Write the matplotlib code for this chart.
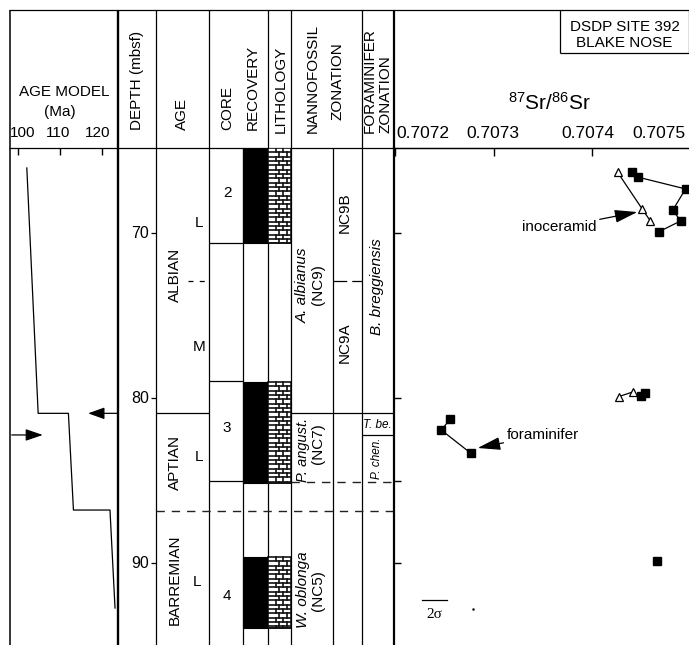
import matplotlib
matplotlib.use('Agg')
import matplotlib.pyplot as plt
from matplotlib.patches import Rectangle

plt.rcParams['font.family'] = ['Liberation Sans', 'DejaVu Sans']
plt.rcParams['mathtext.fontset'] = 'custom'
plt.rcParams['mathtext.rm'] = 'Liberation Sans'

W, H = 689, 645
HEAD = 148          # bottom of header row (px)
PX_M = 16.5         # px per metre, 70 mbsf sits at 233 px
D_TOP = 70 - (233 - HEAD) / PX_M
D_BOT = 70 + (H - 233) / PX_M

# ---- data -------------------------------------------------------------
depth_ticks = [70, 80, 90]
sr_ticks = [0.7072, 0.7073, 0.7074, 0.7075]
sr_tick_labels = ['0.7072', '0.7073', '0.7074', '0.7075']
sr_left_ticks = [70, 80, 85, 90]
age_ticks = [100, 110, 120]
age_tick_labels = ['100', '110', '120']

# age model (Ma) against depth (mbsf)
model_age = [102.1, 104.8, 112.0, 113.2, 121.9, 123.1]
model_depth = [66.06, 80.93, 80.93, 86.79, 86.79, 92.73]
arrow_right_depth = 82.24
arrow_left_depth = 80.93

cores = ['2', '3', '4']
core_label_depth = [67.6, 81.8, 92.0]
core_breaks = [70.61, 78.97, 85.03]
rec_top = [D_TOP, 79.03, 89.64]
rec_bot = [70.61, 85.15, 93.94]

stage_names = ['ALBIAN', 'APTIAN', 'BARREMIAN']
stage_depth = [72.55, 83.88, 91.03]
substage_names = ['L', 'M', 'L', 'L']
substage_depth = [69.39, 76.91, 83.58, 91.15]
alb_apt = 80.93
apt_bar = 86.85
alb_lm = 72.9
nc7_base = 85.09
tbe_base = 82.24

# 87Sr/86Sr
ino_sr_a = [0.707426, 0.707451, 0.707459]
ino_d_a = [66.32, 68.55, 69.25]
blk_sr_a = [0.707441, 0.707447, 0.707495, 0.707482, 0.707490, 0.707468]
blk_d_a = [66.28, 66.62, 67.33, 68.61, 69.27, 69.92]
ino_sr_b = [0.707427, 0.707442]
ino_d_b = [79.92, 79.62]
blk_sr_b = [0.707450, 0.707454]
blk_d_b = [79.88, 79.68]
foram_sr = [0.707256, 0.707247, 0.707277]
foram_d = [81.29, 81.94, 83.35]
blk_sr_c = [0.707466]
blk_d_c = [89.88]
two_sigma = 0.0000254

# ---- figure -----------------------------------------------------------
fig = plt.figure(figsize=(W / 100, H / 100), dpi=100)


def col_rect(x0, x1):
    return [x0 / W, 0, (x1 - x0) / W, 1 - HEAD / H]


frame = fig.add_axes([0, 0, 1, 1])
frame.set_xlim(0, W)
frame.set_ylim(H, 0)
frame.axis('off')

body = fig.add_axes(col_rect(0, W))
body.set_xlim(0, W)
body.set_ylim(D_BOT, D_TOP)
body.axis('off')

LW = 0.9


def vline(x, y0, y1, lw=LW):
    frame.plot([x, x], [y0, y1], color='k', lw=lw, solid_capstyle='butt')


def hline(y, x0, x1, lw=LW):
    frame.plot([x0, x1], [y, y], color='k', lw=lw, solid_capstyle='butt')


# table frame
for x in [156, 209, 268, 291, 362]:
    vline(x, 10, H)
vline(9.5, 10, H, lw=1.1)
vline(118, 10, H, lw=1.7)
vline(243, HEAD, H)
vline(333, HEAD, H)
vline(393.5, 10, HEAD, lw=1.6)
hline(10, 9, W)
hline(HEAD, 9, W)
vline(560, 10, 53)
hline(53, 560, W)
vline(688.5, 10, 53)

FS = 11
# header text
frame.text(64, 92, 'AGE MODEL', ha='center', va='center', fontsize=FS)
frame.text(60, 112, '(Ma)', ha='center', va='center', fontsize=FS)
heads = [(137, 130, 'DEPTH (mbsf)'), (182, 130, 'AGE'), (227, 130, 'CORE'),
         (253, 130, 'RECOVERY'), (281, 133, 'LITHOLOGY'), (313, 133, 'NANNOFOSSIL'),
         (337, 120, 'ZONATION'), (370, 133, 'FORAMINIFER'), (386, 133, 'ZONATION')]
for x, y, s in heads:
    frame.text(x, y, s, rotation=90, ha='center', va='bottom', fontsize=FS)
frame.text(625, 27, 'DSDP SITE 392', ha='center', va='center', fontsize=FS)
frame.text(624, 43, 'BLAKE NOSE', ha='center', va='center', fontsize=FS)
frame.text(550, 103, r'$\mathregular{^{87}Sr/^{86}Sr}$', ha='center', va='center',
           fontsize=15)


def bline(d, x0, x1, lw=LW, color='k', **kw):
    body.plot([x0, x1], [d, d], color=color, lw=lw, solid_capstyle='butt', **kw)


# depth scale
for d in depth_ticks:
    bline(d, 151, 156)
    body.text(149, d, str(d), ha='right', va='center', fontsize=FS + 0.5)

# age column
for s, d in zip(stage_names, stage_depth):
    body.text(175, d, s, rotation=90, ha='center', va='center', fontsize=FS)
for s, d, x in zip(substage_names, substage_depth, [199, 199, 199, 197]):
    body.text(x, d, s, ha='center', va='center', fontsize=FS)
bline(alb_apt, 156, 209)
bline(alb_apt, 291, 393)
bline(alb_lm, 188, 209, ls=(0, (4, 5)))
bline(alb_lm, 333, 362, ls=(0, (11, 4)))
bline(apt_bar, 156, 393, ls=(0, (6, 5)), color='#222222', lw=1.0)
bline(nc7_base, 291, 393, ls=(0, (6, 5)), color='#222222', lw=1.0)
bline(tbe_base, 362, 393)

# cores
for c, d in zip(cores, core_label_depth):
    body.text(227, d, c, ha='center', va='center', fontsize=FS)
for d in core_breaks:
    bline(d, 209, 243)

# recovery + lithology (limestone bricks)
row_h = 4.33 / PX_M
brick_w = 7.6
for t, b in zip(rec_top, rec_bot):
    body.add_patch(Rectangle((243, t), 25, b - t, fc='k', ec='k', lw=0.8))
    body.add_patch(Rectangle((268, t), 23, b - t, fc='white', ec='k', lw=1.1))
    k = 0
    y = t
    while y < b - 1e-6:
        y2 = min(y + row_h, b)
        bline(y2, 268, 291, lw=1.2, color='#111111')
        off = 3.8 if k % 2 else 0.0
        x = 268 + off + brick_w
        while x < 290:
            body.plot([x, x], [y, y2], color='#111111', lw=1.2)
            x += brick_w
        y = y2
        k += 1

# nannofossil zones
body.text(303, 73.15, 'A. albianus', rotation=90, ha='center', va='center',
          fontsize=FS, style='italic')
body.text(318, 73.15, '(NC9)', rotation=90, ha='center', va='center', fontsize=FS)
body.text(345, 68.79, 'NC9B', rotation=90, ha='center', va='center', fontsize=FS)
body.text(345, 76.67, 'NC9A', rotation=90, ha='center', va='center', fontsize=FS)
body.text(303, 83.15, 'P. angust.', rotation=90, ha='center', va='center',
          fontsize=10.5, style='italic')
body.text(318, 82.75, '(NC7)', rotation=90, ha='center', va='center', fontsize=FS)
body.text(303, 91.6, 'W. oblonga', rotation=90, ha='center', va='center',
          fontsize=FS, style='italic')
body.text(318, 91.7, '(NC5)', rotation=90, ha='center', va='center', fontsize=FS)

# foraminifer zones
body.text(377, 73.27, 'B. breggiensis', rotation=90, ha='center', va='center',
          fontsize=FS, style='italic')
body.text(377.5, 81.62, 'T. be.', ha='center', va='center', fontsize=8.5, style='italic')
body.text(377, 83.64, 'P. chen.', rotation=90, ha='center', va='center',
          fontsize=8.5, style='italic')

# ---- age model panel --------------------------------------------------
age = fig.add_axes(col_rect(9, 118))
age.patch.set_visible(False)
age.set_xlim(100 - 9 / 4.2, 100 + 100 / 4.2)
age.set_ylim(D_BOT, D_TOP)
for sp in age.spines.values():
    sp.set_visible(False)
age.xaxis.set_ticks_position('top')
age.set_xticks(age_ticks)
age.set_yticks([])
age.tick_params(axis='x', direction='in', length=5, width=1, labeltop=False)
for t, s, dx in zip(age_ticks, age_tick_labels, [3.0, -1.1, -2.9]):
    age.annotate(s, xy=(t, 1), xycoords=('data', 'axes fraction'),
                 xytext=(dx, 10.8), textcoords='offset points',
                 ha='center', va='center', fontsize=FS, annotation_clip=False)
age.plot(model_age, model_depth, color='k', lw=0.9)
age.annotate('', xy=(105.9, arrow_right_depth), xytext=(98.5, arrow_right_depth),
             arrowprops=dict(arrowstyle='-|>,head_length=1.05,head_width=0.36',
                             mutation_scale=10, color='k', lw=0.9,
                             shrinkA=0, shrinkB=0))
age.annotate('', xy=(116.7, arrow_left_depth), xytext=(123.8, arrow_left_depth),
             arrowprops=dict(arrowstyle='-|>,head_length=1.0,head_width=0.36',
                             mutation_scale=10, color='k', lw=0.9,
                             shrinkA=0, shrinkB=0))

# ---- Sr panel ---------------------------------------------------------
sr = fig.add_axes(col_rect(393.5, W))
sr.patch.set_visible(False)
sr.set_xlim(0.7072 - 1.5 / 985000, 0.7072 + 294 / 985000)
sr.set_ylim(D_BOT, D_TOP)
sr.spines['right'].set_visible(False)
sr.spines['bottom'].set_visible(False)
sr.spines['left'].set_linewidth(1.6)
sr.spines['top'].set_linewidth(LW)
sr.xaxis.set_ticks_position('top')
sr.set_xticks(sr_ticks[:3])
sr.set_yticks(sr_left_ticks)
sr.tick_params(axis='x', direction='in', length=6, width=1, labeltop=False)
sr.tick_params(axis='y', direction='in', length=5, width=1, labelleft=False)
for t, s, dx in zip(sr_ticks, sr_tick_labels, [20.0, -0.7, -2.9, -22.8]):
    sr.annotate(s, xy=(t, 1), xycoords=('data', 'axes fraction'),
                xytext=(dx, 10.8), textcoords='offset points',
                ha='center', va='center', fontsize=12.5, annotation_clip=False)

sq = dict(marker='s', ms=5.2, mfc='k', mec='k', color='k', clip_on=False)
tri = dict(marker='^', ms=6, mfc='white', mec='k', mew=0.9, color='k', lw=0.9,
           clip_on=False)
sr.plot(blk_sr_a, blk_d_a, lw=0.9, **sq)
sr.plot(ino_sr_a, ino_d_a, **tri)
sr.plot(ino_sr_b, ino_d_b, **tri)
sr.plot(blk_sr_b, blk_d_b, lw=0.9, **sq)
sr.plot(foram_sr, foram_d, lw=0.9, **sq)
sr.plot(blk_sr_c, blk_d_c, ls='none', **sq)

head = dict(arrowstyle='-|>,head_length=1.4,head_width=0.4', mutation_scale=10,
            color='k', lw=0.9, shrinkA=0, shrinkB=0)
sr.annotate('inoceramid', xy=(0.707446, 68.73), xytext=(0.707405, 69.64),
            ha='right', va='center', fontsize=FS, arrowprops=head)
sr.annotate('foraminifer', xy=(0.707284, 83.03), xytext=(0.707313, 82.24),
            ha='left', va='center', fontsize=FS, arrowprops=head)

x0 = 0.707227
sr.plot([x0, x0 + two_sigma], [92.24, 92.24], color='k', lw=0.9)
sr.text(x0 + two_sigma / 2, 93.1, '2σ', ha='center', va='center', fontsize=FS,
        family=['Liberation Serif', 'DejaVu Serif'])
sr.plot([0.707279], [92.79], marker='.', ms=1.5, color='k')

fig.savefig('out.png', dpi=100)
